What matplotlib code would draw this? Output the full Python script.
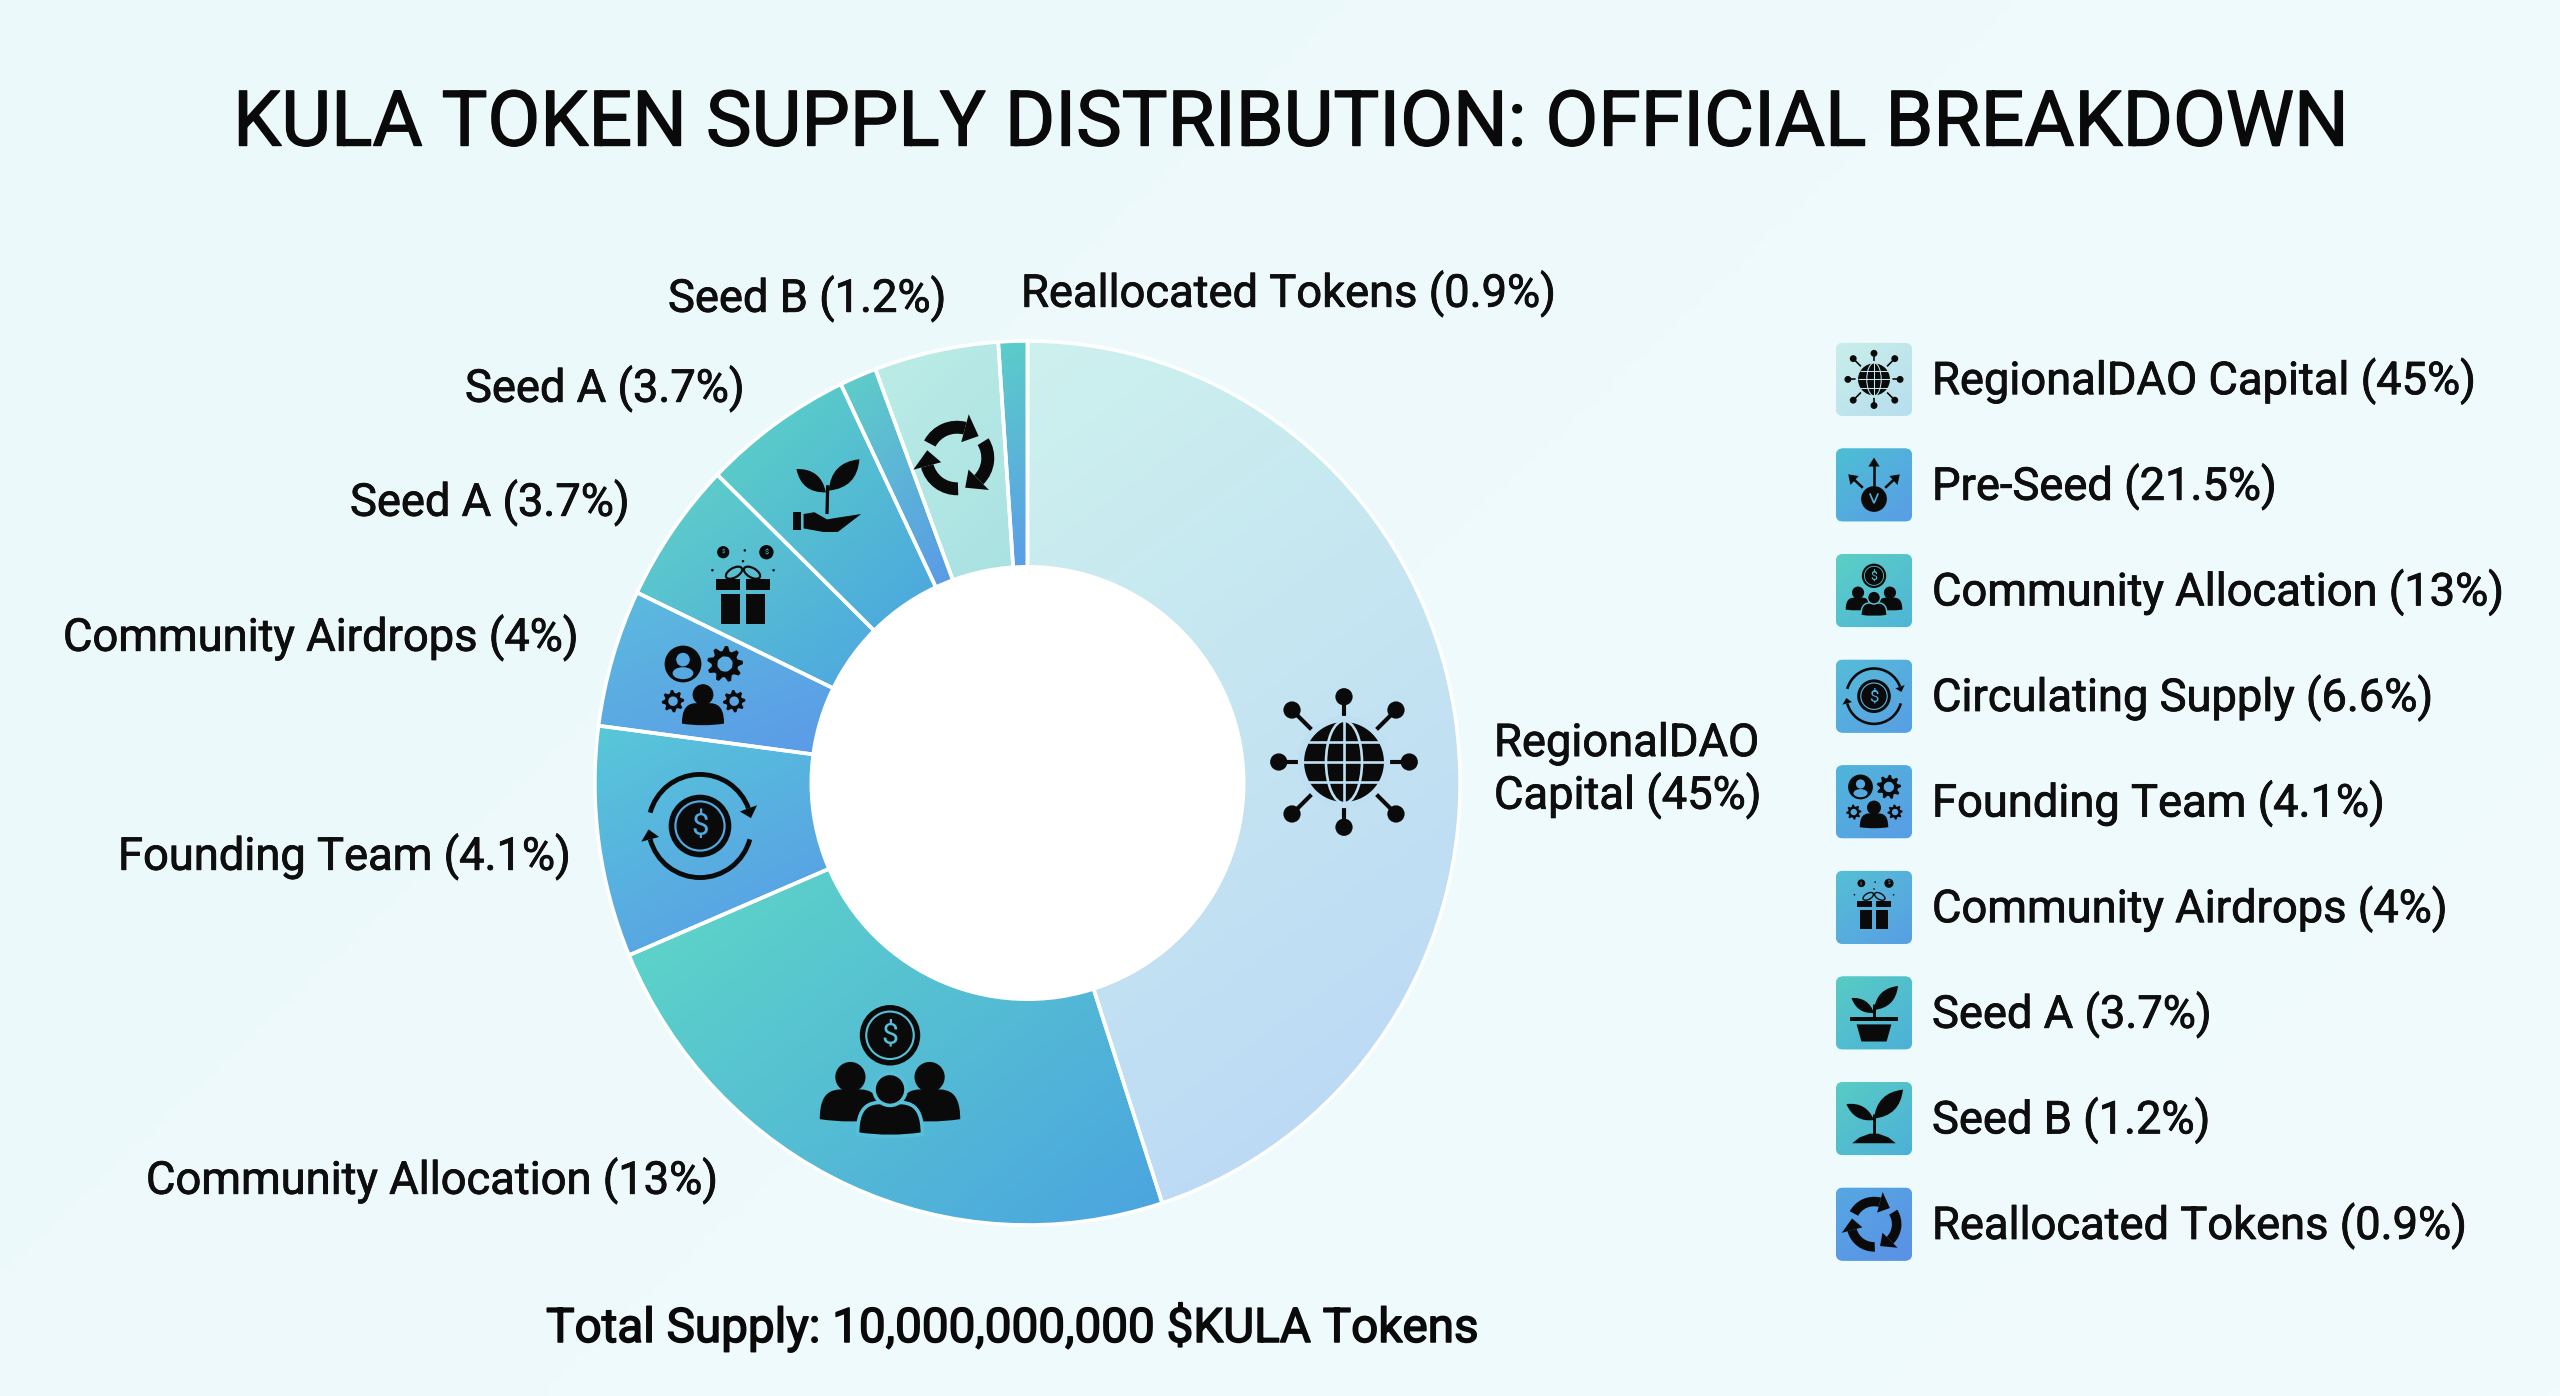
import numpy as np
import matplotlib
matplotlib.use("Agg")
import matplotlib.pyplot as plt
import matplotlib.patheffects as pe
from matplotlib.patches import Circle, Wedge, Polygon, Rectangle, FancyBboxPatch, PathPatch, Ellipse
from matplotlib.path import Path
from matplotlib.transforms import Affine2D
from matplotlib.colors import to_rgb

plt.rcParams['font.family'] = ['Roboto', 'DejaVu Sans']

# ---------- data ----------
title = "KULA TOKEN SUPPLY DISTRIBUTION: OFFICIAL BREAKDOWN"
total_note = "Total Supply: 10,000,000,000 $KULA Tokens"
wedge_names = ["RegionalDAO Capital", "Community Allocation", "Circulating", "Founding Team",
               "Community Airdrops", "Seed A", "Seed B", "Recycled", "Reallocated"]
wedge_shares = [44.96, 23.67, 8.44, 5.02, 5.19, 5.62, 1.38, 4.64, 1.08]
wedge_start = ["#CDF1EE", "#5FD8C6", "#57C8D8", "#5CBCDD", "#60D2C6", "#5DD4C4", "#5FD0C6", "#BCECE7", "#5BCFC8"]
wedge_end = ["#BAD6F6", "#4BA4E0", "#5998E8", "#5B99E8", "#4DA6E1", "#4BA5E0", "#5A98E8", "#A9E2E2", "#5A9CE8"]
wedge_dir = [-70, -40, -60, -60, -50, -50, -60, -60, -85]

donut_labels = ["Reallocated Tokens (0.9%)", "Seed B (1.2%)", "Seed A (3.7%)", "Seed A (3.7%)",
                "Community Airdrops (4%)", "Founding Team (4.1%)", "Community Allocation (13%)",
                "RegionalDAO\nCapital (45%)"]
legend_labels = ["RegionalDAO Capital (45%)", "Pre-Seed (21.5%)", "Community Allocation (13%)",
                 "Circulating Supply (6.6%)", "Founding Team (4.1%)", "Community Airdrops (4%)",
                 "Seed A (3.7%)", "Seed B (1.2%)", "Reallocated Tokens (0.9%)"]
legend_start = ["#C9EEEA", "#4CC0D4", "#5BD0C4", "#55BCD8", "#4FB6DA", "#55C0D4", "#58CCC4", "#58CCC4", "#55A8E2"]
legend_end = ["#B6DEEE", "#5A9CE6", "#4FB4D8", "#589EE4", "#5A9CE6", "#589EE4", "#4DB0D8", "#4DB0D8", "#5C90E6"]

# ---------- layout ----------
W, H = 2560, 1396
CX, CY, R_OUT, R_IN = 1027.5, 783, 437, 218
SX, SY = 0.990, 1.0115  # the reference ring is very slightly elliptical
fig = plt.figure(figsize=(W / 100, H / 100), dpi=100)
ax = fig.add_axes([0, 0, 1, 1])


def Y(py):
    return H - py


def lerp_img(c0, c1, angle, n=200):
    a = np.deg2rad(angle)
    yy, xx = np.mgrid[1:-1:n * 1j, -1:1:n * 1j]  # row 0 = top
    t = xx * np.cos(a) + yy * np.sin(a)
    t = (t - t.min()) / (t.max() - t.min())
    c0, c1 = np.array(to_rgb(c0)), np.array(to_rgb(c1))
    return c0 + (c1 - c0) * t[..., None]


def grad_fill(patch, c0, c1, angle, z, extra=None):
    tr = patch.get_patch_transform()
    if extra is not None:
        tr = tr + extra
    bb = patch.get_path().get_extents(tr)
    im = ax.imshow(lerp_img(c0, c1, angle), extent=(bb.x0, bb.x1, bb.y0, bb.y1),
                   origin='upper', aspect='auto', zorder=z, interpolation='bilinear')
    im.set_clip_path(patch)


# background
INNER_HIDDEN = R_IN - 8
wedges, _ = ax.pie(wedge_shares, startangle=90, counterclock=False, radius=R_OUT, center=(CX, Y(CY)),
                   colors=wedge_start,
                   wedgeprops=dict(width=R_OUT - INNER_HIDDEN, edgecolor='white', linewidth=0))
ax.imshow(lerp_img("#EBF9FB", "#F1FBFD", -30), extent=(0, W, 0, H), origin='upper', aspect='auto', zorder=-5)
squash = Affine2D().translate(-CX, -Y(CY)).scale(SX, SY).translate(CX, Y(CY))
for w, c0, c1, d in zip(wedges, wedge_start, wedge_end, wedge_dir):
    w.set_zorder(1)
    w.set_transform(squash + ax.transData)
    grad_fill(w, c0, c1, d, 2, extra=squash)
    # white separators on top
    sep = Wedge(w.center, w.r, w.theta1, w.theta2, width=w.width, fc='none', ec='white', lw=2.6, zorder=3)
    ax.add_patch(sep)
    sep.set_transform(squash + ax.transData)
ax.add_patch(Circle((CX, Y(CY)), R_IN, fc='white', ec='none', zorder=4))
ax.set_xlim(0, W)
ax.set_ylim(0, H)
ax.set_aspect('auto')
ax.axis('off')

K = "#0A0A0A"


# ---------- icon primitives (local units, y up) ----------
class Icon:
    def __init__(self, px, py, s, bg='white', fg=K, z=6):
        self.x, self.y, self.s, self.bg, self.fg, self.z = px, Y(py), s, bg, fg, z

    def p(self, x, y):
        return self.x + x * self.s, self.y + y * self.s

    def lw(self, v):
        return v * self.s * 0.72

    def circle(self, x, y, r, fc=None, ec='none', lw=0):
        ax.add_patch(Circle(self.p(x, y), r * self.s, fc=fc or self.fg, ec=ec, lw=self.lw(lw), zorder=self.z))

    def ring(self, x, y, r, w, color=None):
        ax.add_patch(Wedge(self.p(x, y), r * self.s, 0, 360, width=w * self.s, fc=color or self.fg, ec='none', zorder=self.z + 0.2))

    def line(self, x0, y0, x1, y1, w=.06, color=None):
        a, b = self.p(x0, y0), self.p(x1, y1)
        ax.plot([a[0], b[0]], [a[1], b[1]], color=color or self.fg, lw=self.lw(w), solid_capstyle='butt', zorder=self.z + 0.2)

    def poly(self, pts, fc=None, z=0):
        ax.add_patch(Polygon([self.p(*q) for q in pts], closed=True, fc=fc or self.fg, ec='none', zorder=self.z + z))

    def text(self, x, y, t, size, color):
        px, py = self.p(x, y)
        ax.text(px, py, t, fontsize=size * self.s, color=color, ha='center', va='center', zorder=self.z + 0.4)

    def arc_arrow(self, r, t1, t2, w=.09, head=.2, x=0, y=0):
        lo, hi = min(t1, t2), max(t1, t2)
        ax.add_patch(Wedge(self.p(x, y), r * self.s, lo, hi, width=w * self.s, fc=self.fg, ec='none', zorder=self.z))
        th = np.deg2rad(t2)
        sgn = 1 if t2 > t1 else -1
        rm = r - w / 2
        tip_t = th + sgn * head * 1.1 / rm
        pts = [(x + (rm - head) * np.cos(th), y + (rm - head) * np.sin(th)),
               (x + (rm + head) * np.cos(th), y + (rm + head) * np.sin(th)),
               (x + rm * np.cos(tip_t), y + rm * np.sin(tip_t))]
        self.poly(pts)

    def person(self, x, y, s, edge=None):
        hx, hy = x, y + .62 * s
        verts = [(x - .85 * s, y - .55 * s), (x - .85 * s, y + .35 * s), (x - .4 * s, y + .28 * s), (x, y + .28 * s),
                 (x + .4 * s, y + .28 * s), (x + .85 * s, y + .35 * s), (x + .85 * s, y - .55 * s),
                 (x, y - .68 * s), (x - .85 * s, y - .55 * s), (x - .85 * s, y - .55 * s)]
        codes = [Path.MOVETO, Path.CURVE4, Path.CURVE4, Path.CURVE4, Path.CURVE4, Path.CURVE4, Path.CURVE4,
                 Path.CURVE3, Path.CURVE3, Path.CLOSEPOLY]
        v = [self.p(*q) for q in verts]
        e = edge if edge is not None else 'none'
        has = edge is not None
        ax.add_patch(PathPatch(Path(v, codes), fc=self.fg, ec=e, lw=self.lw(.05) if has else 0, zorder=self.z + .1))
        ax.add_patch(Circle(self.p(hx, hy), .42 * s * self.s, fc=self.fg, ec=e, lw=self.lw(.05) if has else 0, zorder=self.z + .1))

    def leaf(self, x0, y0, x1, y1, b=.35):
        dx, dy = x1 - x0, y1 - y0
        nx, ny = -dy, dx
        c1 = (x0 + dx * .5 + nx * b, y0 + dy * .5 + ny * b)
        c2 = (x0 + dx * .5 - nx * b, y0 + dy * .5 - ny * b)
        v = [self.p(x0, y0), self.p(*c1), self.p(x1, y1), self.p(*c2), self.p(x0, y0), self.p(x0, y0)]
        codes = [Path.MOVETO, Path.CURVE3, Path.CURVE3, Path.CURVE3, Path.CURVE3, Path.CLOSEPOLY]
        ax.add_patch(PathPatch(Path(v, codes), fc=self.fg, ec='none', zorder=self.z))

    def gear(self, x, y, r, teeth=8):
        ang = np.linspace(0, 2 * np.pi, teeth * 4, endpoint=False)
        rad = np.tile([r, r, r * .74, r * .74], teeth)
        pts = [self.p(x + a * np.cos(t), y + a * np.sin(t)) for a, t in zip(rad, ang)]
        outer = Path(pts + [pts[0]], closed=True)
        circ = Path.circle(self.p(x, y), r * .42 * self.s)
        inner = Path(circ.vertices[::-1], circ.codes)
        ax.add_patch(PathPatch(Path.make_compound_path(outer, inner), fc=self.fg, ec='none', zorder=self.z))

    def coin(self, x, y, r, bg, ringed=True):
        self.circle(x, y, r)
        if ringed:
            self.ring(x, y, r * .82, r * .07, bg)
        self.text(x, y - r * .02, "$", r * .72, bg)


def icon_globe(I):
    for i in range(8):
        t = i * np.pi / 4
        c, sn = np.cos(t), np.sin(t)
        d = .87 if i % 2 == 0 else .98
        I.line(.6 * c, .6 * sn, d * c, d * sn, .055)
        I.circle(d * c, d * sn, .115)
    I.circle(0, 0, .55)
    bg = I.bg
    for e in [.55, .24]:
        ax.add_patch(Ellipse(I.p(0, 0), 2 * e * I.s, 2 * .55 * I.s, fc='none', ec=bg, lw=I.lw(.035), zorder=I.z + .2))
    for y in [-.27, 0, .27]:
        hw = np.sqrt(.55 ** 2 - y ** 2)
        I.line(-hw, y, hw, y, .035, bg)
    I.line(0, -.55, 0, .55, .035, bg)
    ax.add_patch(Circle(I.p(0, 0), .59 * I.s, fc='none', ec=bg, lw=I.lw(.05), zorder=I.z + .2))


def icon_community(I):
    I.coin(0, .51, .42, I.bg)
    I.person(-.55, -.38, .5)
    I.person(.55, -.38, .5)
    I.person(0, -.57, .53, edge=I.bg)


def icon_cycle(I):
    I.arc_arrow(1.0, 165, 20, .09, .17)
    I.arc_arrow(1.0, -15, -165, .09, .17)
    I.coin(0, 0, .58, I.bg)


def icon_team(I):
    I.circle(-.5, .55, .46)
    I.circle(-.5, .66, .17, I.bg)
    ax.add_patch(Ellipse(I.p(-.5, .32), .52 * I.s, .3 * I.s, fc=I.bg, ec='none', zorder=I.z + .1))
    I.gear(.55, .55, .45, 9)
    I.gear(-.75, -.38, .28, 8)
    I.gear(.78, -.38, .28, 8)
    I.person(0, -.6, .62)


def icon_gift(I, top=True):
    I.poly([(-.62, -.95), (-.07, -.95), (-.07, -.1), (-.62, -.1)])
    I.poly([(.07, -.95), (.62, -.95), (.62, -.1), (.07, -.1)])
    I.poly([(-.75, .0), (-.07, .0), (-.07, .3), (-.75, .3)])
    I.poly([(.07, .0), (.75, .0), (.75, .3), (.07, .3)])
    for sx in (-1, 1):
        ax.add_patch(Ellipse(I.p(sx * .25, .48), .5 * I.s, .26 * I.s, angle=-sx * 30, fc='none', ec=I.fg, lw=I.lw(.06), zorder=I.z))
    I.coin(-.55, 1.05, .17, I.bg, False)
    I.coin(.65, 1.05, .2, I.bg, False)
    for (x, y) in [(-.85, .55), (.85, .55), (0, .8), (.05, 1.1)]:
        I.circle(x, y, .035)


def icon_hand_plant(I):
    I.line(0, -.5, .02, .3, .09)
    I.leaf(-.03, .1, -.85, .75, .42)
    I.leaf(.05, .15, .9, 1.02, .42)
    I.poly([(-.95, -.95), (-.72, -.95), (-.72, -.45), (-.95, -.45)])
    I.poly([(-.65, -.9), (-.65, -.5), (-.35, -.45), (0, -.65), (.3, -.6), (.95, -.5), (.3, -1.0), (-.1, -1.0)])


def icon_recycle(I):
    for a in [100, -20, -140]:
        I.arc_arrow(.98, a + 52, a - 25, .34, .38)


def icon_preseed(I):
    I.circle(0, -.5, .46)
    I.line(-.15, -.3, 0, -.65, .06, I.bg)
    I.line(.15, -.3, 0, -.65, .06, I.bg)
    I.line(0, -.02, 0, .8, .09)
    I.poly([(-.2, .66), (.2, .66), (0, .98)])
    for sx in (-1, 1):
        I.line(sx * .4, -.1, sx * .72, .2, .09)
        I.poly([(sx * .92, .38), (sx * .55, .32), (sx * .84, 0)])


def icon_pot(I):
    I.line(0, -.2, 0, .3, .1)
    I.leaf(0, 0, -.75, .5, .38)
    I.leaf(0, .1, .8, .9, .4)
    I.poly([(-.8, -.28), (.8, -.28), (.8, -.12), (-.8, -.12)])
    I.poly([(-.58, -.38), (.58, -.38), (.42, -.95), (-.42, -.95)])


def icon_sprout(I):
    I.line(0, -.6, 0, .15, .1)
    I.leaf(0, -.05, -.95, .5, .38)
    I.leaf(0, .0, 1.0, 1.0, .4)
    I.poly([(-.75, -.85), (.75, -.85), (.5, -.65), (.15, -.52), (-.15, -.52), (-.5, -.65)])


# donut icons
icon_globe(Icon(1344, 762, 75, bg="#BFE0F3"))
icon_community(Icon(890, 1072, 72, bg="#55C0D8"))
icon_cycle(Icon(700, 826, 54, bg="#52A8E0"))
icon_team(Icon(703, 686, 40, bg="#55A8E2"))
icon_gift(Icon(743, 590, 36, bg="#55B8DC"))
icon_hand_plant(Icon(827, 496, 36, bg="#55C0D8"))
icon_recycle(Icon(957, 458, 38, bg="#B3E8E4"))

# ---------- legend ----------
legend_icons = [icon_globe, icon_preseed, icon_community, icon_cycle, icon_team, icon_gift, icon_pot, icon_sprout, icon_recycle]
LX0, LW, LH, LY0, DY, TX = 1836, 76, 73, 379.4, 105.6, 1932
scales = [30, 28, 29, 29, 27, 23, 30, 29, 28]
thin = [pe.withStroke(linewidth=0.6, foreground="#0E0E0E")]
for i, (lab, c0, c1, fn, sc) in enumerate(zip(legend_labels, legend_start, legend_end, legend_icons, scales)):
    yc = LY0 + i * DY
    box = FancyBboxPatch((LX0 + 4, Y(yc) - LH / 2 + 4), LW - 8, LH - 8, boxstyle="round,pad=4,rounding_size=7",
                         fc=c0, ec='none', zorder=2)
    ax.add_patch(box)
    grad_fill(box, c0, c1, -50, 3)
    bg = tuple((np.array(to_rgb(c0)) + np.array(to_rgb(c1))) / 2)
    fn(Icon(LX0 + LW / 2, yc, sc, bg=bg, z=6))
    ax.text(TX, Y(yc + 2), lab, fontsize=32.6, color="#0E0E0E", ha='left', va='center', zorder=6, path_effects=thin)

# ---------- text ----------
ax.text(1291, Y(124), title, fontsize=55.3, color="#0A0A0A", ha='center', va='center', zorder=6,
        path_effects=[pe.withStroke(linewidth=1.0, foreground="#0A0A0A")])
ax.text(1012, Y(1327), total_note, fontsize=34.3, color="#0A0A0A", ha='center', va='center', zorder=6,
        path_effects=[pe.withStroke(linewidth=1.1, foreground="#0A0A0A")])
label_pos = [(1021, 294), (668, 299), (465, 389), (350, 503), (63, 638), (118, 857), (146, 1181), (1494, 771)]
for lab, (x, y) in zip(donut_labels, label_pos):
    ax.text(x, Y(y), lab, fontsize=32.6, color="#0E0E0E", ha='left', va='center', zorder=6, linespacing=1.22, path_effects=thin)

fig.savefig("out.png", dpi=100, facecolor="#EEF9FC")
